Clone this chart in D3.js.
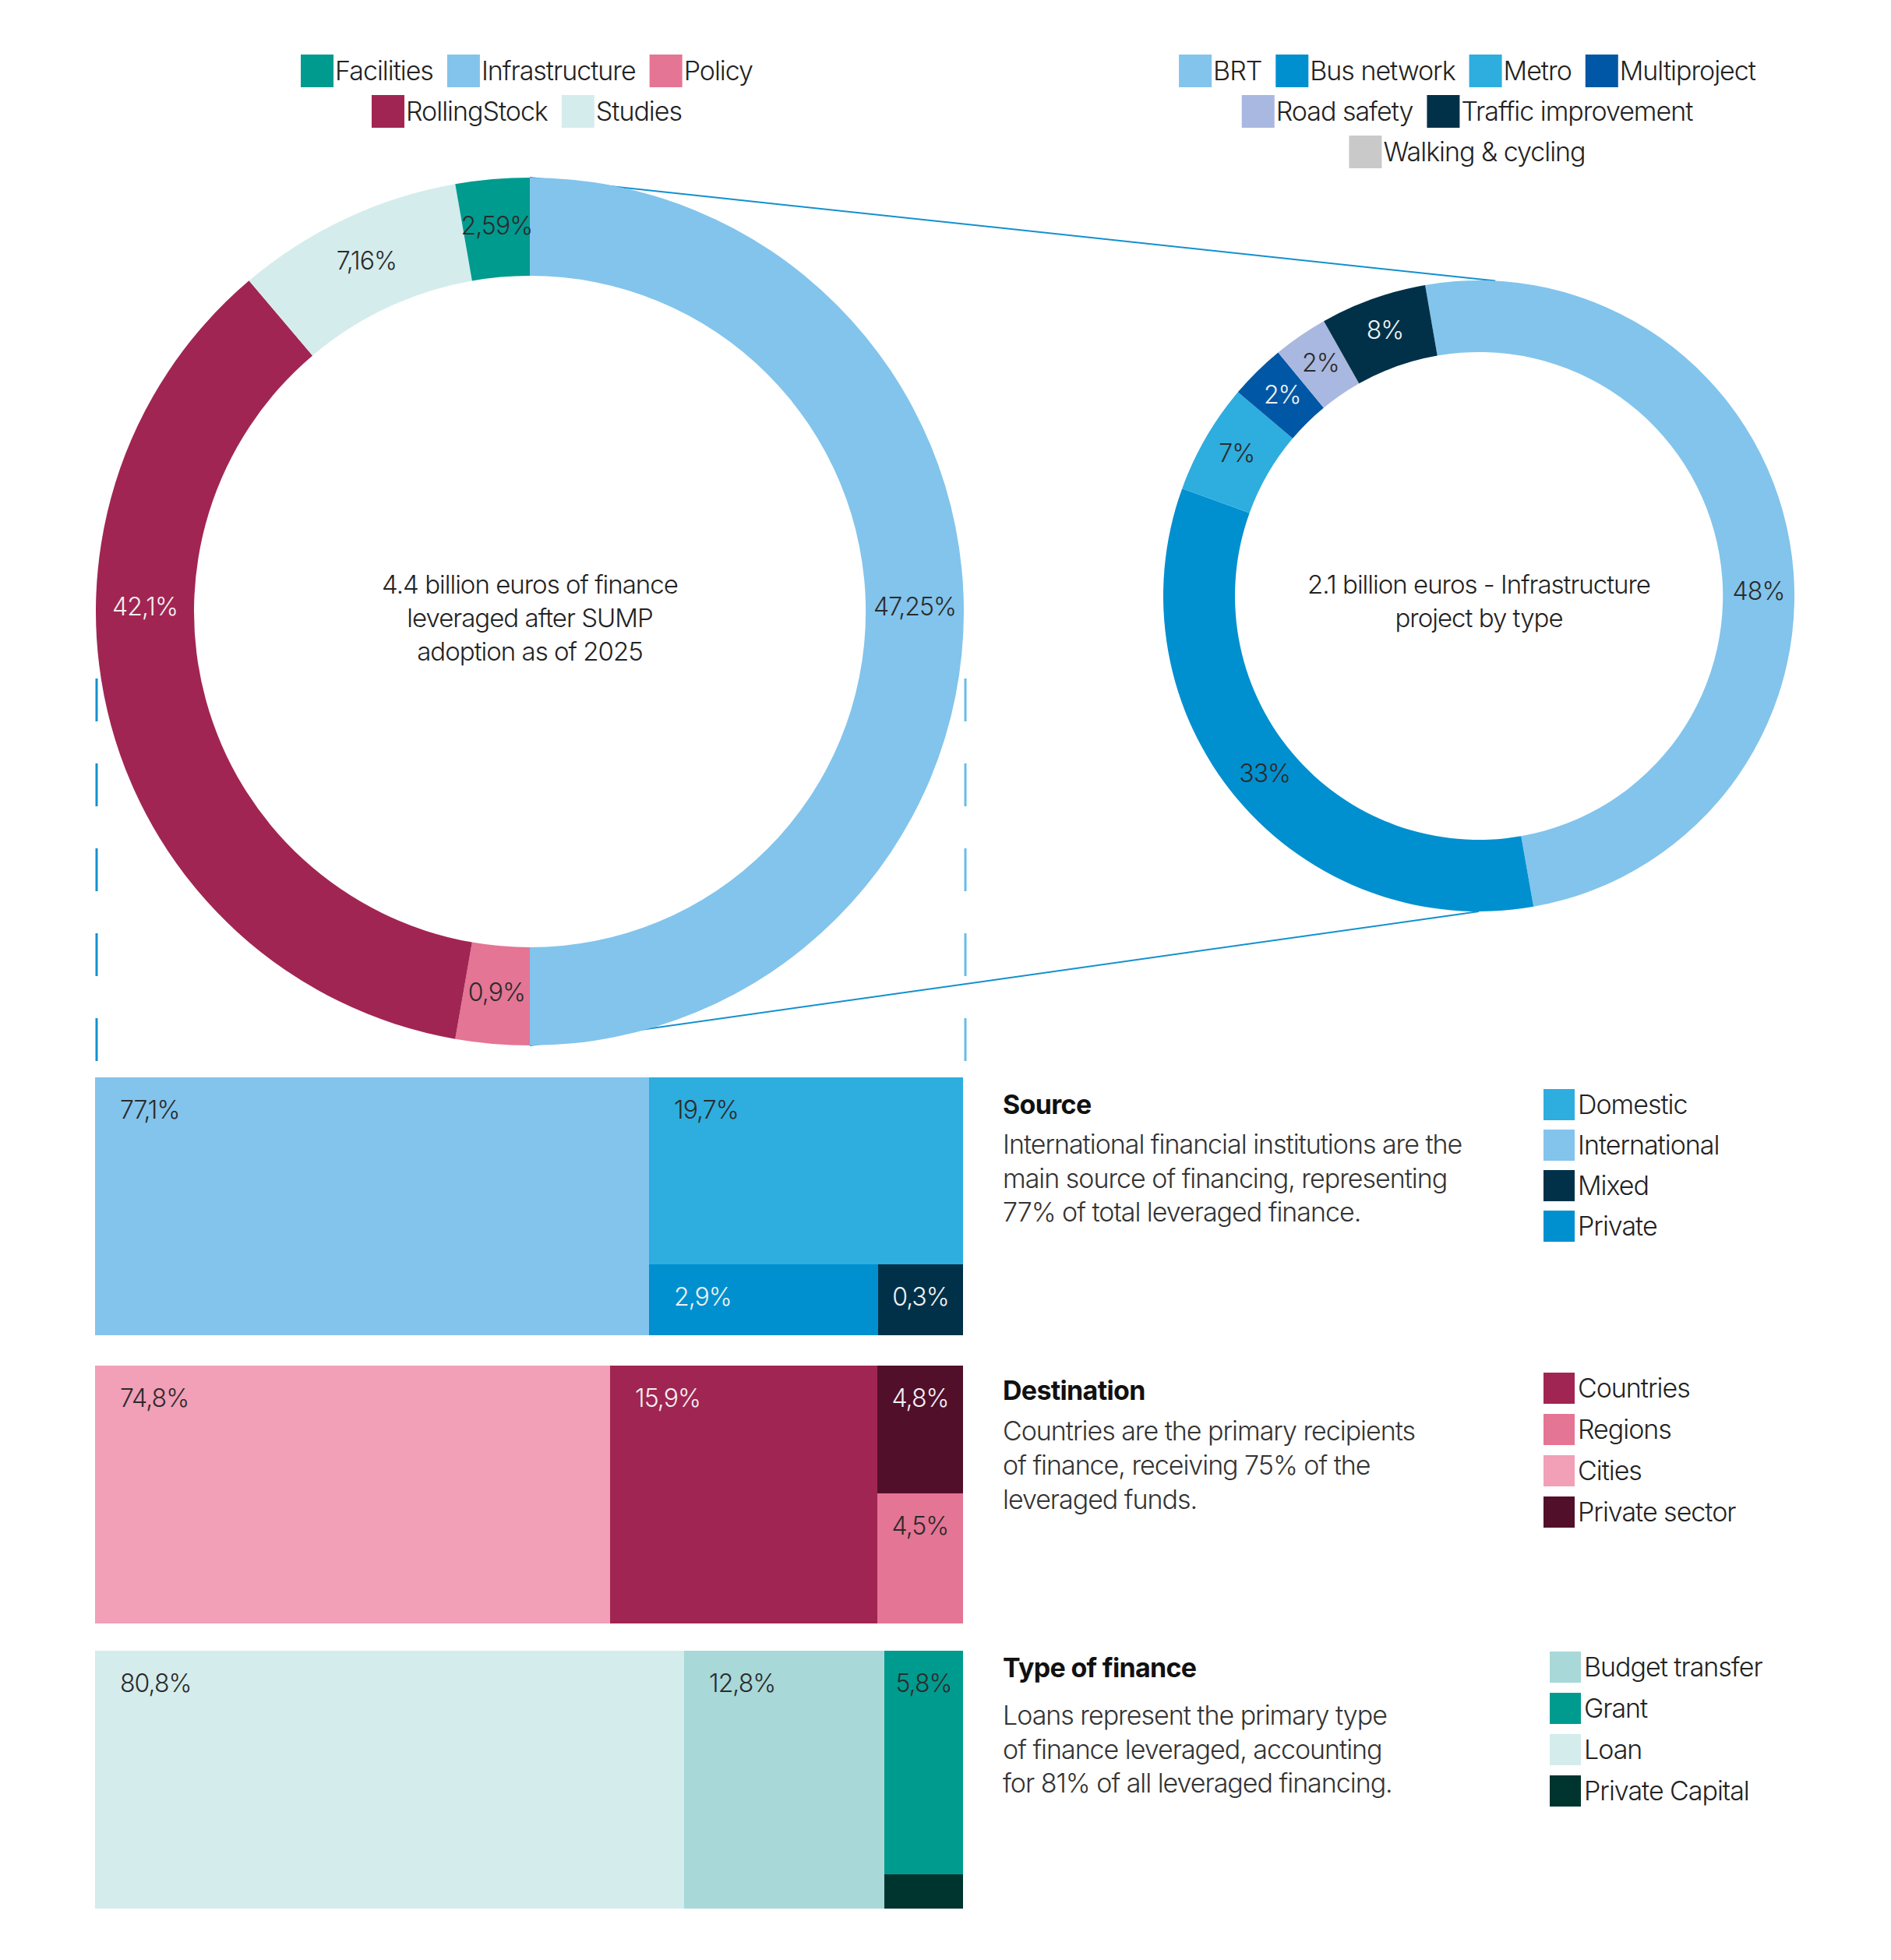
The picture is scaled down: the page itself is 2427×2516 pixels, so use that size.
<!DOCTYPE html>
<html>
<head>
<meta charset="utf-8">
<script src="https://cdn.jsdelivr.net/npm/d3@7"></script>
<style>
  body { margin: 0; background: #fff; }
  svg text { font-family: Inter, "Noto Sans", sans-serif; font-weight: 300; letter-spacing: -0.03em; fill: #2b2b2b; }
</style>
</head>
<body>
<svg id="chart" width="2427" height="2516"></svg>
<script>
// ---- data ----
// main donut (clockwise from 12 o'clock); share = arc size as drawn
const mainCats = ['Infrastructure', 'Policy', 'RollingStock', 'Studies', 'Facilities'];
const mainShare = [50, 2.75, 36.05, 8.45, 2.75];
const mainLabels = ['47,25%', '0,9%', '42,1%', '7,16%', '2,59%'];
const mainTitle = ['4.4 billion euros of finance', 'leveraged after SUMP', 'adoption as of 2025'];
const mainLegendRows = [['Facilities', 'Infrastructure', 'Policy'], ['RollingStock', 'Studies']];

// infrastructure donut
const infraCats = ['BRT', 'Bus network', 'Metro', 'Multiproject', 'Road safety', 'Traffic improvement'];
const infraShare = [49.95, 33.3, 5.65, 2.85, 2.8, 5.45];
const infraLabels = ['48%', '33%', '7%', '2%', '2%', '8%'];
const infraTitle = ['2.1 billion euros - Infrastructure', 'project by type'];
const infraLegendRows = [['BRT', 'Bus network', 'Metro', 'Multiproject'], ['Road safety', 'Traffic improvement'], ['Walking & cycling']];

// blocks: share = area as drawn, level = nesting of the split
const sourceCats = ['International', 'Domestic', 'Private', 'Mixed'];
const sourceShare = [63.8, 26.2, 7.3, 2.7];
const sourceLevel = [0, 1, 2, 2];
const sourceLabels = ['77,1%', '19,7%', '2,9%', '0,3%'];
const sourceLegend = ['Domestic', 'International', 'Mixed', 'Private'];
const sourceText = ['International financial institutions are the', 'main source of financing, representing', '77% of total leveraged finance.'];

const destCats = ['Cities', 'Countries', 'Private sector', 'Regions'];
const destShare = [59.3, 30.8, 4.9, 5.0];
const destLevel = [0, 0, 1, 1];
const destLabels = ['74,8%', '15,9%', '4,8%', '4,5%'];
const destLegend = ['Countries', 'Regions', 'Cities', 'Private sector'];
const destText = ['Countries are the primary recipients', 'of finance, receiving 75% of the', 'leveraged funds.'];

const typeCats = ['Loan', 'Budget transfer', 'Grant', 'Private Capital'];
const typeShare = [67.9, 23.0, 7.9, 1.2];
const typeLevel = [0, 0, 1, 1];
const typeLabels = ['80,8%', '12,8%', '5,8%', ''];
const typeLegend = ['Budget transfer', 'Grant', 'Loan', 'Private Capital'];
const typeText = ['Loans represent the primary type', 'of finance leveraged, accounting', 'for 81% of all leveraged financing.'];

// ---- styles ----
const color = d3.scaleOrdinal()
    .domain(['Facilities', 'Infrastructure', 'Policy', 'RollingStock', 'Studies',
        'BRT', 'Bus network', 'Metro', 'Multiproject', 'Road safety', 'Traffic improvement', 'Walking & cycling',
        'Domestic', 'International', 'Mixed', 'Private',
        'Countries', 'Regions', 'Cities', 'Private sector',
        'Budget transfer', 'Grant', 'Loan', 'Private Capital'])
    .range(['#009b8f', '#82c4ec', '#e47595', '#a12552', '#d4ecec',
        '#82c4ec', '#0090cf', '#2eaddf', '#0057a5', '#a9b8e0', '#003149', '#c9c9c9',
        '#2eaddf', '#82c4ec', '#003149', '#0090cf',
        '#a12552', '#e47595', '#f29fb8', '#520f2a',
        '#a8d8d8', '#009b8f', '#d4ecec', '#00352f']);
const lightText = new Set(['RollingStock', 'Multiproject', 'Traffic improvement', 'Private', 'Mixed', 'Countries', 'Private sector']);
const lineBlue = '#1390cf';

const svg = d3.select('#chart');

// geometry
const c1 = { x: 680, y: 785, r0: 431, r1: 557 };
const c2 = { x: 1898, y: 765, r0: 313, r1: 405 };
const titleTop = 762;
const blockX = 122, blockW = 1114, blockH = 331;

// ---- connector + dashed guides (under the donuts) ----
const guides = svg.append('g');
const topAng = 3 * Math.PI / 180;
guides.append('line')
    .attr('x1', c1.x).attr('y1', c1.y - c1.r1)
    .attr('x2', c2.x + c2.r1 * Math.sin(topAng)).attr('y2', c2.y - c2.r1 * Math.cos(topAng))
    .attr('stroke', lineBlue).attr('stroke-width', 2);
guides.append('line')
    .attr('x1', c1.x).attr('y1', c1.y + c1.r1)
    .attr('x2', c2.x).attr('y2', c2.y + c2.r1)
    .attr('stroke', lineBlue).attr('stroke-width', 2);
[[c1.x - c1.r1 + 1, lineBlue], [c1.x + c1.r1 + 2, '#66bde7']].forEach(([gx, col]) => {
    guides.append('line')
        .attr('x1', gx).attr('x2', gx)
        .attr('y1', 871).attr('y2', 1362)
        .attr('stroke', col).attr('stroke-width', 3)
        .attr('stroke-dasharray', '55 54');
});

// ---- donuts ----
function drawDonut(c, cats, share, labels, startDeg, title) {
    const g = svg.append('g').attr('transform', `translate(${c.x},${c.y})`);
    const a0 = startDeg * Math.PI / 180;
    const pie = d3.pie().sort(null).value(d => d.v).startAngle(a0).endAngle(a0 + 2 * Math.PI);
    const arcs = pie(cats.map((c, i) => ({ cat: c, v: share[i], label: labels[i] })));
    const arc = d3.arc().innerRadius(c.r0).outerRadius(c.r1);

    g.selectAll('path').data(arcs).join('path')
        .attr('d', arc)
        .attr('fill', d => color(d.data.cat));

    const mid = (c.r0 + c.r1) / 2;
    const wide = d => d.endAngle - d.startAngle > 0.7 * Math.PI;
    g.selectAll('text.pct').data(arcs).join('text')
        .attr('class', 'pct')
        .attr('transform', d => {
            let a = (d.startAngle + d.endAngle) / 2;
            // wide slices carry their label on the side of the ring
            if (wide(d)) {
                const norm = ((a % (2 * Math.PI)) + 2 * Math.PI) % (2 * Math.PI);
                a = norm < Math.PI ? Math.PI / 2 : 3 * Math.PI / 2;
            }
            return `translate(${mid * Math.sin(a)},${-mid * Math.cos(a)})`;
        })
        .attr('dy', d => wide(d) ? '0.15em' : '0.25em')
        .attr('text-anchor', 'middle')
        .style('font-size', '32px')
        .style('fill', d => lightText.has(d.data.cat) ? '#f2f2f2' : '#2b2b2b')
        .text(d => d.data.label);

    g.selectAll('text.title').data(title).join('text')
        .attr('class', 'title')
        .attr('x', 0)
        .attr('y', (d, i) => titleTop - c.y + i * 43)
        .attr('text-anchor', 'middle')
        .style('font-size', '33px')
        .style('fill', '#222')
        .text(d => d);
}
drawDonut(c1, mainCats, mainShare, mainLabels, 0, mainTitle);
drawDonut(c2, infraCats, infraShare, infraLabels, -9.8, infraTitle);

// ---- horizontal legends at the top ----
function rowLegend(rows, cx, y0, pitch) {
    const g = svg.append('g');
    rows.forEach((row, ri) => {
        const rg = g.append('g');
        let x = 0;
        row.forEach(name => {
            const it = rg.append('g').attr('transform', `translate(${x},0)`);
            it.append('rect').attr('x', 0).attr('y', -21).attr('width', 42).attr('height', 42)
                .attr('fill', color(name));
            const t = it.append('text').attr('x', 44).attr('y', 12)
                .style('font-size', '34px').style('fill', '#222').text(name);
            x += 44 + t.node().getComputedTextLength() + 18;
        });
        x -= 18;
        rg.attr('transform', `translate(${cx - x / 2},${y0 + ri * pitch})`);
    });
}
rowLegend(mainLegendRows, 676, 91, 52);
rowLegend(infraLegendRows, 1883, 91, 52);

// ---- blocks ----
function nest(cats, share, level, labels) {
    const root = { children: [] };
    const groups = [root];
    cats.forEach((c, i) => {
        while (groups.length <= level[i]) {
            const grp = { children: [] };
            groups[groups.length - 1].children.push(grp);
            groups.push(grp);
        }
        groups[level[i]].children.push({ name: c, value: share[i], label: labels[i] });
    });
    return root;
}

function drawBlock(cats, share, level, labels, y0) {
    const root = d3.hierarchy(nest(cats, share, level, labels)).sum(d => d.value || 0);
    d3.treemap().tile(d3.treemapSliceDice).size([blockW, blockH]).paddingInner(0).round(true)(root);
    const g = svg.append('g').attr('transform', `translate(${blockX},${y0})`);
    const leaves = root.leaves();
    g.selectAll('rect').data(leaves).join('rect')
        .attr('x', d => d.x0).attr('y', d => d.y0)
        .attr('width', d => d.x1 - d.x0).attr('height', d => d.y1 - d.y0)
        .attr('fill', d => color(d.data.name));
    g.selectAll('text').data(leaves).join('text')
        .attr('x', d => (d.x1 - d.x0) < 150 ? (d.x0 + d.x1) / 2 : d.x0 + 32)
        .attr('y', d => d.y0 + 53)
        .attr('text-anchor', d => (d.x1 - d.x0) < 150 ? 'middle' : 'start')
        .style('font-size', '32px')
        .style('fill', d => lightText.has(d.data.name) ? '#f2f2f2' : '#2b2b2b')
        .text(d => d.data.label);
}
drawBlock(sourceCats, sourceShare, sourceLevel, sourceLabels, 1383);
drawBlock(destCats, destShare, destLevel, destLabels, 1753);
drawBlock(typeCats, typeShare, typeLevel, typeLabels, 2119);

// ---- notes and vertical legends ----
function note(title, lines, y0, firstGap, lineGap) {
    const g = svg.append('g').attr('transform', `translate(1287,${y0})`);
    g.append('text').attr('x', 0).attr('y', 0)
        .style('font-size', '34px').style('font-weight', 700).style('fill', '#111')
        .style('letter-spacing', '-0.02em')
        .text(title);
    g.selectAll('text.line').data(lines).join('text')
        .attr('class', 'line')
        .attr('x', 0).attr('y', (d, i) => firstGap + i * lineGap)
        .style('font-size', '34px').style('fill', '#333')
        .text(d => d);
}
note('Source', sourceText, 1430, 51, 43.5);
note('Destination', destText, 1797, 52, 44);
note('Type of finance', typeText, 2153, 61, 43.5);

function colLegend(items, x, y0, pitch) {
    const g = svg.append('g').attr('transform', `translate(${x},${y0})`);
    const it = g.selectAll('g').data(items).join('g')
        .attr('transform', (d, i) => `translate(0,${i * pitch})`);
    it.append('rect').attr('x', 0).attr('y', -20).attr('width', 40).attr('height', 40)
        .attr('fill', d => color(d));
    it.append('text').attr('x', 44).attr('y', 12)
        .style('font-size', '34px').style('fill', '#222')
        .text(d => d);
}
colLegend(sourceLegend, 1981, 1418, 52);
colLegend(destLegend, 1981, 1782, 53);
colLegend(typeLegend, 1989, 2140, 53);
</script>
</body>
</html>
